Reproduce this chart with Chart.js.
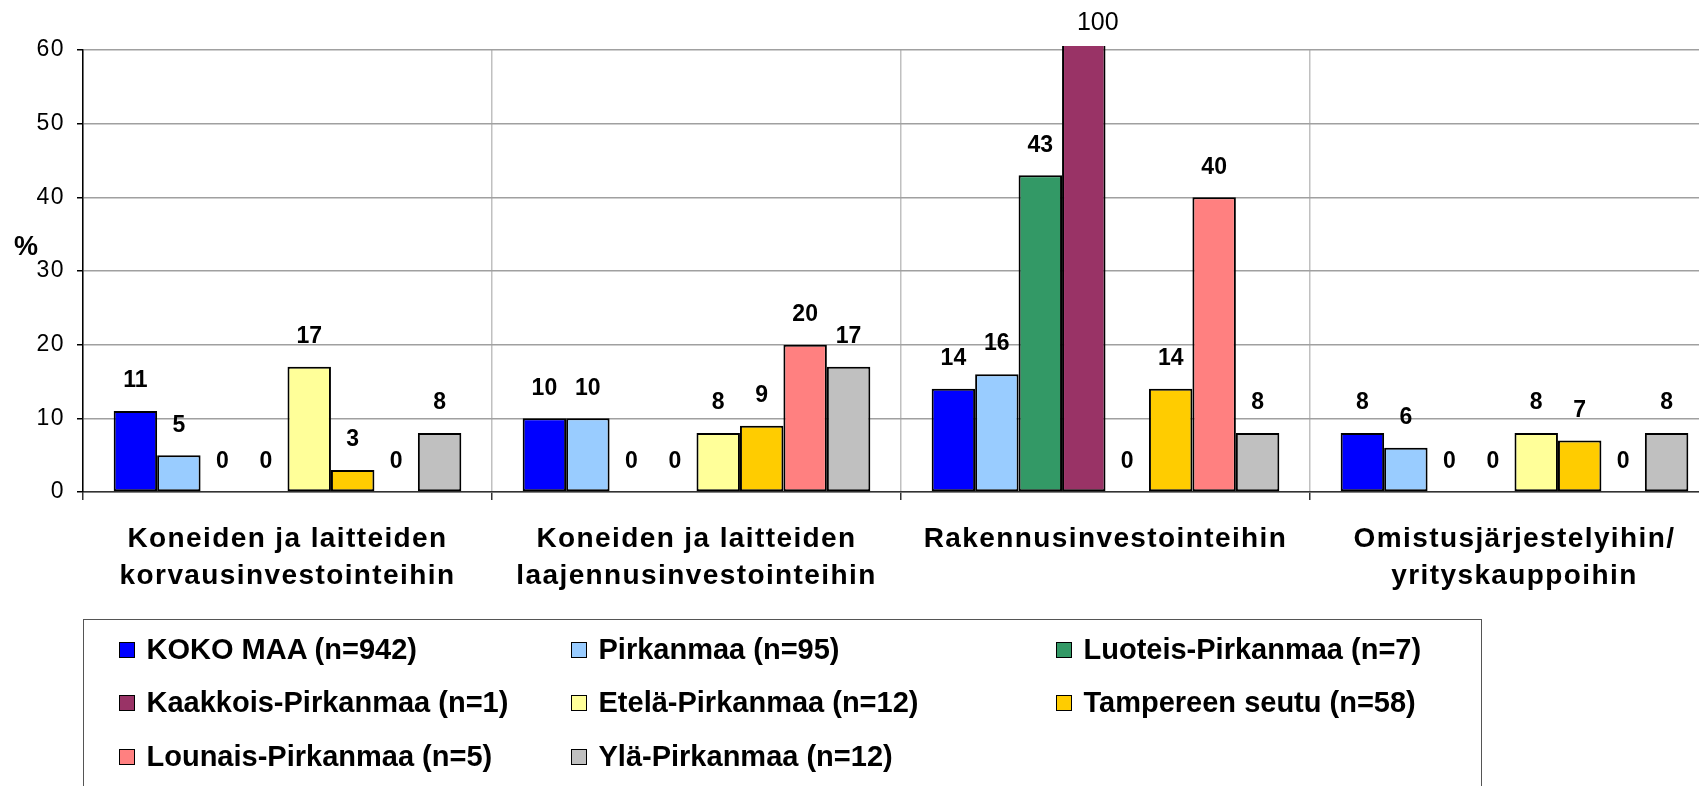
<!DOCTYPE html>
<html>
<head>
<meta charset="utf-8">
<script src="https://cdn.jsdelivr.net/npm/chart.js@4.4.1/dist/chart.umd.min.js"></script>
<style>
    html, body { margin: 0; padding: 0; background: #fff; overflow: hidden; }
    #wrap { position: relative; width: 1722px; height: 786px; }
    #legend {
        position: absolute; left: 83px; top: 619px; width: 1399px; height: 220px;
        border: 1.5px solid #555; box-sizing: border-box;
        font: bold 29px "Liberation Sans", Arial, sans-serif; color: #000;
    }
    .item { position: absolute; display: flex; align-items: center; white-space: nowrap; height: 40px; }
    .sw { width: 14px; height: 14px; border: 1.5px solid #000; margin-right: 12px; }
</style>
</head>
<body>
<div id="wrap">
    <canvas id="chart" width="1722" height="786"></canvas>
    <div id="legend"></div>
</div>
<script>
// data
const categories = [
    ['Koneiden ja laitteiden', 'korvausinvestointeihin'],
    ['Koneiden ja laitteiden', 'laajennusinvestointeihin'],
    'Rakennusinvestointeihin',
    ['Omistusjärjestelyihin/', 'yrityskauppoihin']
];
const seriesNames = [
    'KOKO MAA (n=942)', 'Pirkanmaa (n=95)', 'Luoteis-Pirkanmaa (n=7)',
    'Kaakkois-Pirkanmaa (n=1)', 'Etelä-Pirkanmaa (n=12)', 'Tampereen seutu (n=58)',
    'Lounais-Pirkanmaa (n=5)', 'Ylä-Pirkanmaa (n=12)'
];
const kokoMaa = [11, 10, 14, 8];
const pirkanmaa = [5, 10, 16, 6];
const luoteis = [0, 0, 43, 0];
const kaakkois = [0, 0, 100, 0];
const etela = [17, 8, 0, 8];
const tampereenSeutu = [3, 9, 14, 7];
const lounais = [0, 20, 40, 0];
const yla = [8, 17, 8, 8];
const yTicks = [0, 10, 20, 30, 40, 50, 60];

const seriesValues = [kokoMaa, pirkanmaa, luoteis, kaakkois, etela, tampereenSeutu, lounais, yla];
const colors = ['#0000FF', '#99CCFF', '#339966', '#993366', '#FFFF99', '#FFCC00', '#FF8080', '#C0C0C0'];

const FONT = '"Liberation Sans", Arial, sans-serif';
Chart.defaults.font.family = FONT;

// the category labels in the original are drawn a little spaced out
const spacedText = {
    id: 'spacedText',
    beforeDraw(chart) { chart.ctx.letterSpacing = '1.4px'; },
    afterDatasetsDraw(chart) { chart.ctx.letterSpacing = '0px'; }
};

// value labels above the bars, plus the "%" axis note
const valueLabels = {
    id: 'valueLabels',
    afterDatasetsDraw(chart) {
        const ctx = chart.ctx;
        const top = chart.chartArea.top;
        ctx.save();
        ctx.letterSpacing = '0px';
        ctx.textAlign = 'center';
        ctx.textBaseline = 'middle';
        ctx.fillStyle = '#000';
        chart.data.datasets.forEach((ds, i) => {
            chart.getDatasetMeta(i).data.forEach((bar, j) => {
                const v = ds.data[j];
                if (bar.y < top) {
                    // off-scale bar: plain label above the plot
                    ctx.font = '25px ' + FONT;
                    ctx.fillText(v, bar.x + 14, top - 27);
                } else {
                    ctx.font = 'bold 23px ' + FONT;
                    ctx.fillText(v, bar.x, bar.y - 30);
                }
            });
        });
        ctx.font = 'bold 27px ' + FONT;
        ctx.fillText('%', 26, 248);
        ctx.restore();
    }
};

const datasets = seriesValues.map((vals, i) => ({
    label: seriesNames[i],
    data: vals,
    backgroundColor: colors[i],
    borderColor: '#000',
    borderWidth: 2,
    borderSkipped: false,
    categoryPercentage: 0.85,
    barPercentage: 1.0,
    clip: { left: 0, top: 4, right: 0, bottom: 0 }
}));

new Chart(document.getElementById('chart').getContext('2d'), {
    type: 'bar',
    data: { labels: categories, datasets },
    options: {
        responsive: false,
        animation: false,
        layout: { padding: { top: 50, right: 3, left: 0, bottom: 0 } },
        plugins: { legend: { display: false }, tooltip: { enabled: false } },
        scales: {
            x: {
                grid: { color: '#c0c0c0', lineWidth: 1.5, tickLength: 8, tickColor: '#333', offset: true },
                border: { color: '#333', width: 1.5 },
                ticks: {
                    color: '#000', padding: 21, maxRotation: 0, autoSkip: false,
                    font: { size: 28, weight: 'bold', lineHeight: 37 / 28 }
                },
                afterFit(s) { s.height = 294; }
            },
            y: {
                min: 0, max: 60,
                afterBuildTicks(s) { s.ticks = yTicks.map(v => ({ value: v })); },
                ticks: { color: '#000', padding: 12, font: { size: 23 } },
                grid: { color: '#a0a0a0', lineWidth: 1.5, tickLength: 6, tickColor: '#000' },
                border: { color: '#000', width: 1.5 },
                afterFit(s) { s.width = 83; }
            }
        }
    },
    plugins: [spacedText, valueLabels]
});

// boxed legend, three columns
const legendCols = [119, 571, 1056];
const legendRows = [650, 703, 757];
const legendEl = document.getElementById('legend');
seriesNames.forEach((name, i) => {
    const it = document.createElement('div');
    it.className = 'item';
    it.style.left = (legendCols[i % 3] - 84.5) + 'px';
    it.style.top = (legendRows[Math.floor(i / 3)] - 620.5 - 20) + 'px';
    it.innerHTML = '<span class="sw" style="background:' + colors[i] + '"></span>' + name;
    legendEl.appendChild(it);
});
</script>
</body>
</html>
